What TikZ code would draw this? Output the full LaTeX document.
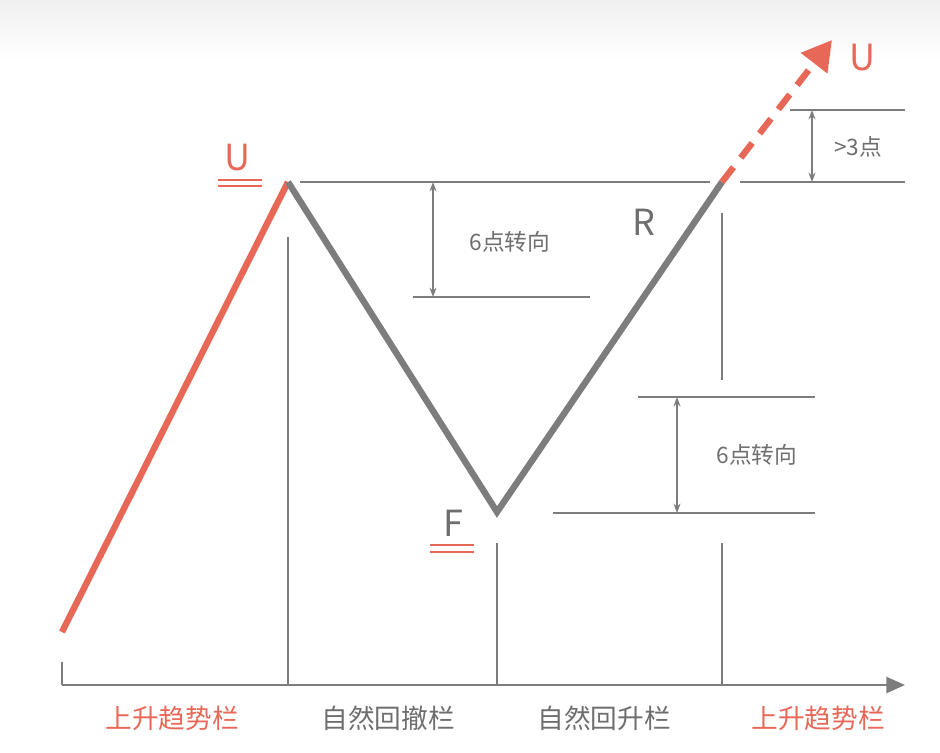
\documentclass[tikz,border=0pt]{standalone}
\usepackage{fontspec}
\setmainfont{Noto Sans CJK SC}
\usetikzlibrary{arrows.meta}
\definecolor{rd}{RGB}{232,104,88}
\definecolor{gr}{RGB}{125,125,125}
\definecolor{tx}{RGB}{110,110,110}
\begin{document}
\begin{tikzpicture}[x=0.75pt,y=-0.75pt,
  thin/.style={gr,line width=1.8pt},
  thick/.style={line width=4.8pt},
  dim/.style={gr,line width=1.4pt,{Stealth[length=7pt]}-{Stealth[length=7pt]}},
  lab/.style={font=\fontsize{17}{17}\selectfont,text=tx},
  bot/.style={font=\fontsize{20}{20}\selectfont},
  big/.style={font=\fontsize{27}{27}\selectfont}]
\useasboundingbox (0,0) rectangle (940,753);
\shade[top color=black!6,bottom color=white] (0,0) rectangle (940,60);
\coordinate (s) at (62,632); \coordinate (u) at (288,182);
\coordinate (f) at (497,512); \coordinate (r) at (722,182);
\coordinate (e) at (832,40);
\draw[rd,thick] (s) -- (u);
\draw[gr,thick,line join=miter] (u) -- (f) -- (r);
\draw[rd,line width=4.8pt,dash pattern=on 14pt off 9pt,-{Triangle[length=22pt,width=24pt]}] (r) -- (e);
% horizontal lines
\draw[thin] (300,182) -- (710,182);
\draw[thin] (740,182) -- (905,182);
\draw[thin] (790,110) -- (905,110);
\draw[thin] (413,297) -- (590,297);
\draw[thin] (638,397) -- (815,397);
\draw[thin] (553,513) -- (815,513);
% vertical lines
\draw[thin] (288,237) -- (288,685);
\draw[thin] (497,543) -- (497,685);
\draw[thin] (722,213) -- (722,380);
\draw[thin] (722,543) -- (722,685);
\draw[thin] (62,662) -- (62,685);
\draw[thin,-{Triangle[length=14pt,width=12pt]}] (62,685) -- (905,685);
% dimension arrows
\draw[dim] (812,110) -- (812,182);
\draw[dim] (433,182) -- (433,297);
\draw[dim] (677,397) -- (677,513);
\node[lab] (l1) at (858,147) {>3点};
\node[lab] (l2) at (510,242) {6点转向};
\node[lab] (l3) at (757,455) {6点转向};
% letters
\node[big,text=rd] (U1) at (237,158) {U};
\draw[rd,line width=1.8pt] (218,180) -- (262,180) (218,186) -- (262,186);
\node[big,text=tx] (F) at (453,523) {F};
\draw[rd,line width=1.8pt] (430,545) -- (474,545) (430,552) -- (474,552);
\node[big,text=tx] (R) at (644,222) {R};
\node[big,text=rd] (U2) at (862,58) {U};
% bottom labels
\node[bot,text=rd] (b1) at (172,718) {上升趋势栏};
\node[bot,text=tx] (b2) at (388,718) {自然回撤栏};
\node[bot,text=tx] (b3) at (604,718) {自然回升栏};
\node[bot,text=rd] (b4) at (818,718) {上升趋势栏};
\end{tikzpicture}
\end{document}
